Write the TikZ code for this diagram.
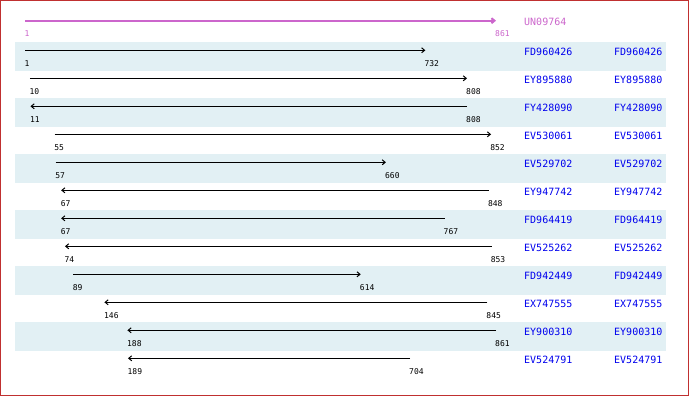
\documentclass[tikz,border=0pt]{standalone}
\usepackage{fontspec}
\newfontfamily\labfont{DejaVu Sans Mono}
\usetikzlibrary{arrows.meta}
\definecolor{stripe}{HTML}{E2F0F4}
\definecolor{frame}{HTML}{C03030}
\definecolor{mag}{HTML}{CC66CC}
\definecolor{accblue}{HTML}{0000EE}
\begin{document}
\begin{tikzpicture}[x=1pt,y=-1pt,
  gene/.style={line width=1pt, black, -{Straight Barb[length=3pt,width=5pt]}},
  refline/.style={line width=2pt, mag, -{Straight Barb[length=3pt,width=5pt]}},
  numlab/.style={font={\labfont\fontsize{8}{8}\selectfont}, anchor=west, inner sep=0pt},
  namelab/.style={font={\labfont\fontsize{10}{10}\selectfont}, anchor=west, inner sep=0pt, text=accblue}]
\useasboundingbox (0,0) rectangle (690,396);
\fill[white] (0,0) rectangle (690,396);
% stripes
\foreach \k in {0,...,5}{
  \fill[stripe] (15,42+56*\k) rectangle (666,70.7+56*\k);
}
% reference sequence
\coordinate (s0) at (25,20.7);
\coordinate (e0) at (496,20.7);
\draw[refline] (s0) -- (e0);
\node[numlab, text=mag] (ls0) at (24.5,34) {1};
\node[numlab, text=mag] (le0) at (495,34) {861};
\node[namelab, text=mag] (na0) at (524,22) {UN09764};
% reads
\foreach \i/\s/\e/\d/\nm in {1/1/732/1/FD960426, 2/10/808/1/EY895880, 3/11/808/0/FY428090, 4/55/852/1/EV530061, 5/57/660/1/EV529702, 6/67/848/0/EY947742, 7/67/767/0/FD964419, 8/74/853/0/EV525262, 9/89/614/1/FD942449, 10/146/845/0/EX747555, 11/188/861/0/EY900310, 12/189/704/0/EV524791}{
  \pgfmathsetmacro\xs{25+(\s-1)*0.5477}
  \pgfmathsetmacro\xe{25+(\e-1)*0.5477}
  \pgfmathsetmacro\yl{50.3+28*(\i-1)}
  \coordinate (s\i) at (\xs,\yl);
  \coordinate (e\i) at (\xe,\yl);
  \ifnum\d=1 \draw[gene] (s\i) -- (e\i); \else \draw[gene] (e\i) -- (s\i); \fi
  \node[numlab] (ls\i) at (\xs-0.5,\yl+13.5) {\s};
  \node[numlab] (le\i) at (\xe-1,\yl+13.5) {\e};
  \node[namelab] (na\i) at (524,\yl+2) {\nm};
  \node[namelab] (nb\i) at (614,\yl+2) {\nm};
}
\draw[frame, line width=1pt] (0.5,0.5) rectangle (688.5,395);
\end{tikzpicture}
\end{document}
